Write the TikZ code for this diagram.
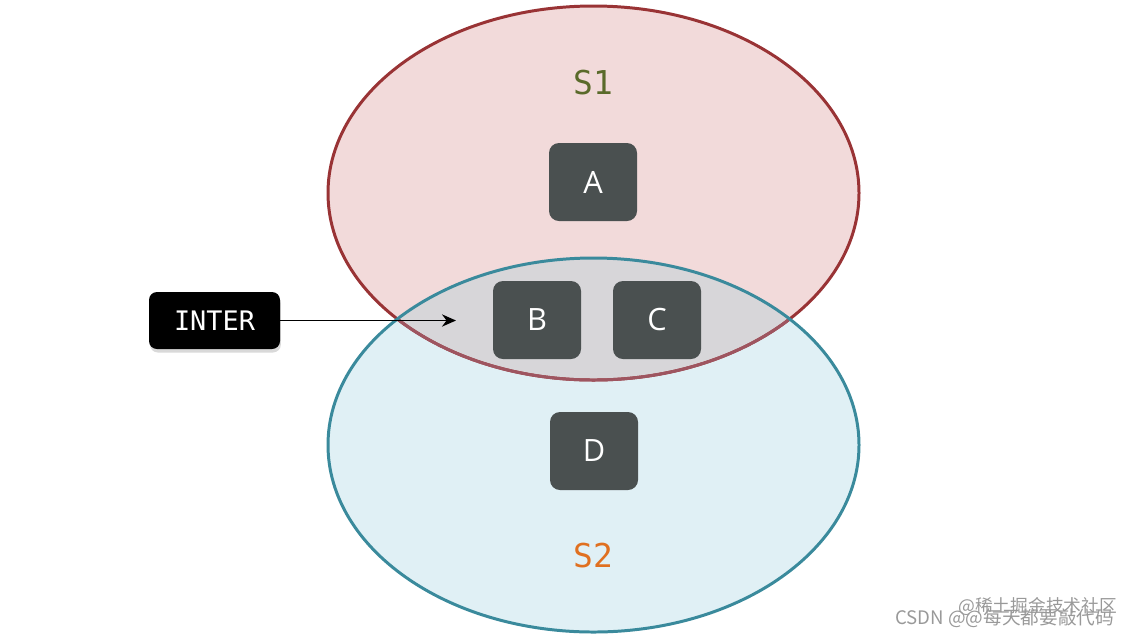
\documentclass[tikz,border=0pt]{standalone}
\usepackage{fontspec}
\setmainfont{Open Sans}
\newfontfamily\monof{DejaVu Sans Mono}
\newfontfamily\cjkf{Noto Sans CJK SC}
\usetikzlibrary{arrows.meta,shadows}
\definecolor{sonefill}{HTML}{F2DADA}
\definecolor{soneline}{HTML}{993335}
\definecolor{stwofill}{HTML}{E0F0F5}
\definecolor{stwoline}{HTML}{3A8A9C}
\definecolor{interfill}{HTML}{D7D6D9}
\definecolor{mutedred}{HTML}{9E5560}
\definecolor{boxfill}{HTML}{4A5050}
\definecolor{sonetext}{HTML}{5A6A2A}
\definecolor{stwotext}{HTML}{E07020}
\tikzset{
  elem/.style={fill=boxfill, rounded corners=0.2cm, minimum width=88*0.02cm, minimum height=78*0.02cm, text=white, font=\fontsize{17.5}{20}\selectfont, inner sep=0pt},
  setlabel/.style={font=\monof\fontsize{18.7}{22}\selectfont, inner sep=0pt},
  interbox/.style={fill=black, rounded corners=0.16cm, minimum width=131*0.02cm, minimum height=57*0.02cm, text=white, font=\monof\fontsize{15.3}{18}\selectfont, inner sep=0pt, drop shadow={shadow xshift=0.5pt, shadow yshift=-2pt, opacity=0.3}},
  wm/.style={text=black!40, font=\cjkf\fontsize{10.6}{12}\selectfont, inner sep=0pt, anchor=base west}
}
\begin{document}
\begin{tikzpicture}[x=0.02cm,y=-0.02cm]
\useasboundingbox (0,0) rectangle (1138,637);
% fills
\fill[sonefill] (593.5,193) ellipse [x radius=265.5, y radius=187];
\fill[stwofill] (593.5,445) ellipse [x radius=265.5, y radius=187];
\begin{scope}
  \clip (593.5,193) ellipse [x radius=265.5, y radius=187];
  \fill[interfill] (593.5,445) ellipse [x radius=265.5, y radius=187];
\end{scope}
% borders
\draw[soneline, line width=1.7pt] (593.5,193) ellipse [x radius=265.5, y radius=187];
\begin{scope}
  \clip (593.5,445) ellipse [x radius=265.5, y radius=187];
  \draw[mutedred, line width=1.7pt] (593.5,193) ellipse [x radius=265.5, y radius=187];
\end{scope}
\draw[stwoline, line width=1.7pt] (593.5,445) ellipse [x radius=265.5, y radius=187];
% labels
\node[setlabel, text=sonetext] (s1) at (593,83) {S1};
\node[setlabel, text=stwotext] (s2) at (593,556) {S2};
% elements
\node[elem] (a) at (593,182) {A};
\node[elem] (b) at (537,320) {B};
\node[elem] (c) at (657,320) {C};
\node[elem] (d) at (594,451) {D};
% inter
\node[interbox] (inter) at (214.5,320.5) {INTER};
\coordinate (tip) at (456,320.5);
\draw[line width=0.9pt, -{Stealth[length=8pt, width=7pt]}] (inter.east) -- (tip);
% watermark
\node[wm, font=\cjkf\fontsize{10.1}{12}\selectfont] (wm1) at (958,612) {@稀土掘金技术社区};
\node[wm] (wm2) at (895,624) {CSDN @@每天都要敲代码};
\end{tikzpicture}
\end{document}
